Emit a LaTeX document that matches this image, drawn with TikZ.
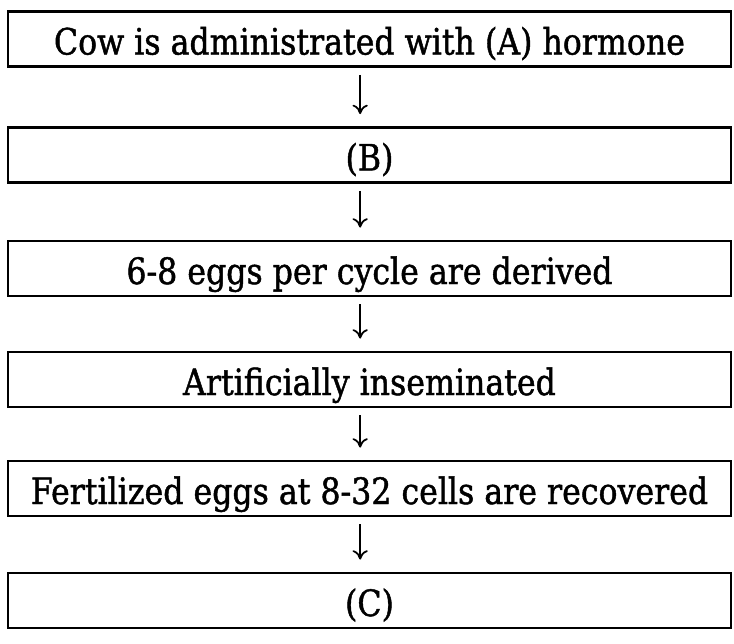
\documentclass[tikz,border=0pt]{standalone}
\usepackage{fontspec}
\setmainfont[FakeStretch=0.87,FakeBold=1.2]{DejaVu Serif}
\usetikzlibrary{arrows.meta}

\begin{document}
\begin{tikzpicture}[>={To[length=8pt,width=13pt]},
    stage/.style={draw, line width=2.4pt, minimum width=21.69cm, minimum height=1.65cm, inner sep=0pt, text height=30pt, text depth=3.5pt, font=\fontsize{31}{34}\selectfont},
    link/.style={->, line width=1.5pt, shorten <=0.21cm, shorten >=0.36cm}]
    \useasboundingbox (0,0) rectangle (22.02,-19.32);
    \node[stage] (hormone) at (11.085,-1.17) {Cow is administrated with (A) hormone};
    \node[stage] (stepB) at (11.085,-4.65) {(B)};
    \node[stage] (eggs) at (11.085,-8.055) {6-8 eggs per cycle are derived};
    \node[stage] (insem) at (11.085,-11.385) {Artificially inseminated};
    \node[stage] (fert) at (11.085,-14.655) {Fertilized eggs at 8-32 cells are recovered};
    \node[stage] (stepC) at (11.085,-18.015) {(C)};
    \draw[link] ([xshift=-0.28cm]hormone.south) -- ([xshift=-0.28cm]stepB.north);
    \draw[link] ([xshift=-0.28cm]stepB.south) -- ([xshift=-0.28cm]eggs.north);
    \draw[link] ([xshift=-0.28cm]eggs.south) -- ([xshift=-0.28cm]insem.north);
    \draw[link] ([xshift=-0.28cm]insem.south) -- ([xshift=-0.28cm]fert.north);
    \draw[link] ([xshift=-0.28cm]fert.south) -- ([xshift=-0.28cm]stepC.north);
  \end{tikzpicture}
\end{document}
